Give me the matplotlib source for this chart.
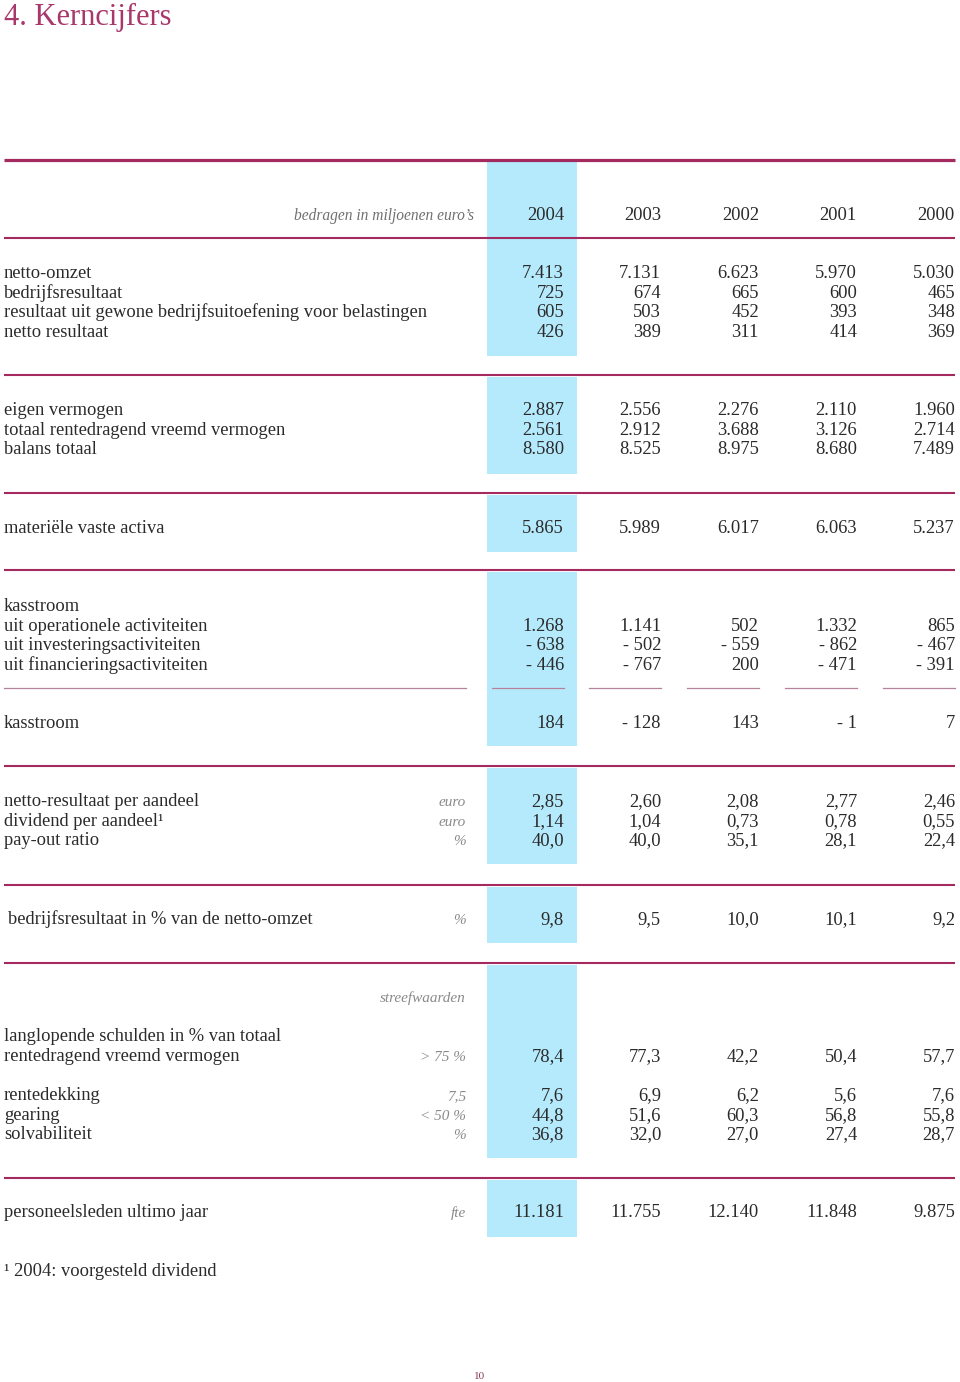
"""
kerncijfers 2000-2004 as a typeset table, drawn on a single full-page axes
"""
import matplotlib
matplotlib.use('Agg')
import matplotlib.pyplot as plt
from matplotlib.patches import Rectangle

W, H = 960, 1382
MAGENTA = '#a3295e'
TITLE_COLOR = '#a8386b'
BLUE = '#b5eafc'
TEXT = '#2a2a2a'
GREY = '#8a8a8a'
FONT = 'Liberation Serif'
FS = 13.3

# data
years = ['2004', '2003', '2002', '2001', '2000']

omzet_labels = ['netto-omzet', 'bedrijfsresultaat',
                'resultaat uit gewone bedrijfsuitoefening voor belastingen', 'netto resultaat']
omzet_values = [[7413, 7131, 6623, 5970, 5030],
                [725, 674, 665, 600, 465],
                [605, 503, 452, 393, 348],
                [426, 389, 311, 414, 369]]

balans_labels = ['eigen vermogen', 'totaal rentedragend vreemd vermogen', 'balans totaal']
balans_values = [[2887, 2556, 2276, 2110, 1960],
                 [2561, 2912, 3688, 3126, 2714],
                 [8580, 8525, 8975, 8680, 7489]]

activa_labels = ['materiële vaste activa']
activa_values = [[5865, 5989, 6017, 6063, 5237]]

kas_labels = ['uit operationele activiteiten', 'uit investeringsactiviteiten',
              'uit financieringsactiviteiten']
kas_values = [[1268, 1141, 502, 1332, 865],
              [-638, -502, -559, -862, -467],
              [-446, -767, 200, -471, -391]]
kas_total = [184, -128, 143, -1, 7]

aandeel_labels = ['netto-resultaat per aandeel', 'dividend per aandeel¹', 'pay-out ratio']
aandeel_units = ['euro', 'euro', '%']
aandeel_decimals = [2, 2, 1]
aandeel_values = [[2.85, 2.60, 2.08, 2.77, 2.46],
                  [1.14, 1.04, 0.73, 0.78, 0.55],
                  [40.0, 40.0, 35.1, 28.1, 22.4]]

marge_label = 'bedrijfsresultaat in % van de netto-omzet'
marge_values = [9.8, 9.5, 10.0, 10.1, 9.2]

langlopend_labels = ['langlopende schulden in % van totaal', 'rentedragend vreemd vermogen']
langlopend_unit = '> 75 %'
langlopend_values = [78.4, 77.3, 42.2, 50.4, 57.7]

ratio_labels = ['rentedekking', 'gearing', 'solvabiliteit']
ratio_units = ['7,5', '< 50 %', '%']
ratio_values = [[7.6, 6.9, 6.2, 5.6, 7.6],
                [44.8, 51.6, 60.3, 56.8, 55.8],
                [36.8, 32.0, 27.0, 27.4, 28.7]]

personeel_label = 'personeelsleden ultimo jaar'
personeel_values = [11181, 11755, 12140, 11848, 9875]

# layout (pixels, y downwards)
X_LEFT, X_RIGHT = 4, 955
X_UNIT = 466
COL_RIGHT = [564, 661, 759, 857, 955]
BAND = (487, 577)
BAND_BLOCKS = [(162, 356), (377, 474), (495, 552), (572, 746),
               (768, 864), (887, 943), (965, 1158), (1180, 1237)]
RULES = [238, 375, 493, 570, 766, 885, 963, 1178]
STEP = 19.6


def fmt_int(v):
    s = f"{abs(v):,}".replace(',', '.')
    return f"- {s}" if v < 0 else s


def fmt_dec(v, n=1):
    return f"{v:.{n}f}".replace('.', ',')


def put_values(ax, y, values, fmt):
    for x, v in zip(COL_RIGHT, values):
        ax.text(x, y, fmt(v), ha='right', va='baseline', fontsize=FS, color=TEXT, family=FONT)


def put_label(ax, y, label, x=X_LEFT):
    ax.text(x, y, label, ha='left', va='baseline', fontsize=FS, color=TEXT, family=FONT)


def put_unit(ax, y, unit):
    ax.text(X_UNIT, y, unit, ha='right', va='baseline', fontsize=11, color=GREY,
            family=FONT, style='italic')


fig = plt.figure(figsize=(W / 100, H / 100), dpi=100)
ax = fig.add_axes([0, 0, 1, 1])
ax.set_xlim(0, W)
ax.set_ylim(H, 0)
ax.axis('off')

# highlighted 2004 column
for y0, y1 in BAND_BLOCKS:
    ax.add_patch(Rectangle((BAND[0], y0), BAND[1] - BAND[0], y1 - y0, color=BLUE, lw=0, zorder=0))

# rules
ax.plot([X_LEFT, X_RIGHT], [160, 160], color=MAGENTA, lw=2.3, solid_capstyle='butt')
for y in RULES:
    ax.plot([X_LEFT, X_RIGHT], [y, y], color=MAGENTA, lw=1.5, solid_capstyle='butt')

# title
ax.text(X_LEFT, 25, '4. Kerncijfers', ha='left', va='baseline', fontsize=22,
        color=TITLE_COLOR, family=FONT)

# header
ax.text(474, 220, 'bedragen in miljoenen euro’s', ha='right', va='baseline', fontsize=11.2,
        color='#707070', family=FONT, style='italic')
for x, yr in zip(COL_RIGHT, years):
    ax.text(x, 220, yr, ha='right', va='baseline', fontsize=FS, color=TEXT, family=FONT)

# omzet en resultaat
for i, (lab, vals) in enumerate(zip(omzet_labels, omzet_values)):
    y = 278 + i * STEP
    put_label(ax, y, lab)
    put_values(ax, y, vals, fmt_int)

# balans
for i, (lab, vals) in enumerate(zip(balans_labels, balans_values)):
    y = 415 + i * STEP
    put_label(ax, y, lab)
    put_values(ax, y, vals, fmt_int)

# activa
for lab, vals in zip(activa_labels, activa_values):
    put_label(ax, 533, lab)
    put_values(ax, 533, vals, fmt_int)

# kasstroom
put_label(ax, 611, 'kasstroom')
for i, (lab, vals) in enumerate(zip(kas_labels, kas_values)):
    y = 611 + (i + 1) * STEP
    put_label(ax, y, lab)
    put_values(ax, y, vals, fmt_int)
ax.plot([X_LEFT, X_UNIT], [688, 688], color='#b5829b', lw=0.9)
for x in COL_RIGHT:
    ax.plot([x - 72, x], [688, 688], color='#b5829b', lw=0.9)
put_label(ax, 728, 'kasstroom')
put_values(ax, 728, kas_total, fmt_int)

# per aandeel
for i, (lab, unit, nd, vals) in enumerate(zip(aandeel_labels, aandeel_units,
                                             aandeel_decimals, aandeel_values)):
    y = 806 + i * STEP
    put_label(ax, y, lab)
    put_unit(ax, y, unit)
    put_values(ax, y, vals, lambda v, nd=nd: fmt_dec(v, nd))

# marge
put_label(ax, 924, marge_label, x=8)
put_unit(ax, 924, '%')
put_values(ax, 924, marge_values, fmt_dec)

# ratio's
put_unit(ax, 1002, 'streefwaarden')
put_label(ax, 1041, langlopend_labels[0])
put_label(ax, 1041 + STEP, langlopend_labels[1])
put_unit(ax, 1041 + STEP, langlopend_unit)
put_values(ax, 1041 + STEP, langlopend_values, fmt_dec)
for i, (lab, unit, vals) in enumerate(zip(ratio_labels, ratio_units, ratio_values)):
    y = 1100 + i * STEP
    put_label(ax, y, lab)
    put_unit(ax, y, unit)
    put_values(ax, y, vals, fmt_dec)

# personeel
put_label(ax, 1217, personeel_label)
put_unit(ax, 1217, 'fte')
put_values(ax, 1217, personeel_values, fmt_int)

# footnote and page number
put_label(ax, 1276, '¹ 2004: voorgesteld dividend')
ax.text(480, 1379, '10', ha='center', va='baseline', fontsize=8, color='#8a3a5e', family=FONT)

fig.savefig('out.png', dpi=100, facecolor='white')
